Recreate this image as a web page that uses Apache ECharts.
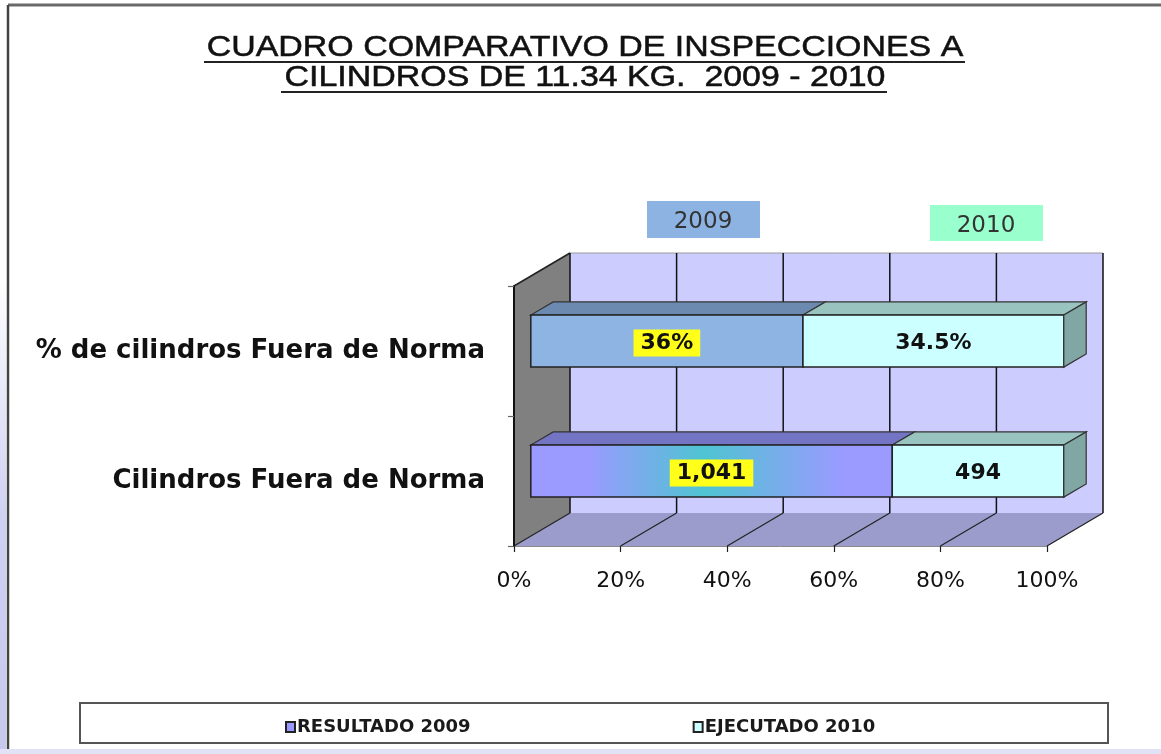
<!DOCTYPE html>
<html>
<head>
<meta charset="utf-8">
<script src="https://cdn.jsdelivr.net/npm/echarts/dist/echarts.min.js"></script>
<style>
  html, body { margin: 0; padding: 0; background: #fff; }
  #main { width: 1161px; height: 754px; }
</style>
</head>
<body>
<div id="main"></div>
<script>
// datos del cuadro
var categories = ['% de cilindros Fuera de Norma', 'Cilindros Fuera de Norma'];
var seriesNames = ['RESULTADO 2009', 'EJECUTADO 2010'];
var values2009 = [36, 1041];
var values2010 = [34.5, 494];
var labels2009 = ['36%', '1,041'];
var labels2010 = ['34.5%', '494'];
var xTicks = [0, 20, 40, 60, 80, 100];
var yearHeaders = ['2009', '2010'];

// profundidad del efecto 3D (px)
var DEPTH = [56, -33];

// 100% apilado
var data2009 = [], data2010 = [];
for (var i = 0; i < categories.length; i++) {
  var total = values2009[i] + values2010[i];
  var share = values2009[i] / total * 100;
  data2009.push([0, share, i, labels2009[i]]);
  data2010.push([share, 100, i, labels2010[i]]);
}

var faces2009 = [
  { front: '#8eb4e3', top: '#6c8ab0' },
  {
    front: {
      type: 'linear', x: 0, y: 0, x2: 1, y2: 0,
      colorStops: [
        { offset: 0, color: '#9a9aff' },
        { offset: 0.16, color: '#9a9aff' },
        { offset: 0.48, color: '#4ec4d2' },
        { offset: 0.86, color: '#9a9aff' },
        { offset: 1, color: '#9a9aff' }
      ]
    },
    top: '#7474c4'
  }
];
var faces2010 = [
  { front: '#ccffff', top: '#99c3bf', side: '#80a7a3' },
  { front: '#ccffff', top: '#99c3bf', side: '#80a7a3' }
];

function renderFrame(params, api) {
  var cs = params.coordSys;
  var L = cs.x, R = cs.x + cs.width, T = cs.y, B = cs.y + cs.height;
  var dx = DEPTH[0], dy = DEPTH[1];
  var kids = [
    { type: 'polygon', shape: { points: [[L + dx, T + dy], [R + dx, T + dy], [R + dx, B + dy], [L + dx, B + dy]] },
      style: { fill: '#ccccff' } },
    { type: 'polygon', shape: { points: [[L, T], [L + dx, T + dy], [L + dx, B + dy], [L, B]] },
      style: { fill: '#808080' } },
    { type: 'polygon', shape: { points: [[L, B], [R, B], [R + dx, B + dy], [L + dx, B + dy]] },
      style: { fill: '#9c9ccc' } },
    { type: 'line', shape: { x1: L + dx, y1: T + dy, x2: R + dx, y2: T + dy },
      style: { stroke: '#9a9a9a', lineWidth: 1 } },
    { type: 'line', shape: { x1: L, y1: T, x2: L + dx, y2: T + dy },
      style: { stroke: '#222', lineWidth: 1.6 } }
  ];
  xTicks.forEach(function (t) {
    var x = api.coord([t, 0])[0];
    kids.push({ type: 'line', shape: { x1: x + dx, y1: T + dy, x2: x + dx, y2: B + dy },
      style: { stroke: '#111', lineWidth: 1.5 } });
    kids.push({ type: 'line', shape: { x1: x, y1: B, x2: x + dx, y2: B + dy },
      style: { stroke: '#222', lineWidth: 1.2 } });
  });
  return { type: 'group', children: kids };
}

function makeBarRenderer(faces, highlight) {
  return function (params, api) {
    var cat = api.value(2);
    var p0 = api.coord([api.value(0), cat]);
    var p1 = api.coord([api.value(1), cat]);
    var h = api.size([0, 1])[1] * 0.4;
    var fx = DEPTH[0] * 0.3, fy = DEPTH[1] * 0.3;
    var bx = DEPTH[0] * 0.4, by = DEPTH[1] * 0.4;
    var x0 = p0[0] + fx, x1 = p1[0] + fx;
    var yT = p0[1] + fy - h / 2, yB = yT + h;
    var f = faces[params.dataIndex];
    var kids = [
      { type: 'polygon', shape: { points: [[x0, yT], [x1, yT], [x1 + bx, yT + by], [x0 + bx, yT + by]] },
        style: { fill: f.top, stroke: '#333', lineWidth: 1.2 } },
      { type: 'rect', shape: { x: x0, y: yT, width: x1 - x0, height: h },
        style: { fill: f.front, stroke: '#222', lineWidth: 1.5 } }
    ];
    if (f.side) {
      kids.push({ type: 'polygon', shape: { points: [[x1, yT], [x1 + bx, yT + by], [x1 + bx, yB + by], [x1, yB]] },
        style: { fill: f.side, stroke: '#333', lineWidth: 1.2 } });
    }
    var txt = {
      type: 'text',
      x: (x0 + x1) / 2, y: (yT + yB) / 2 + 2,
      style: {
        text: api.value(3),
        align: 'center', verticalAlign: 'middle',
        textAlign: 'center', textVerticalAlign: 'middle',
        font: 'bold 22px "DejaVu Sans"',
        fill: '#111'
      }
    };
    if (highlight) {
      txt.style.backgroundColor = '#ffff1a';
      txt.style.padding = [3, 7, 2, 7];
    }
    kids.push(txt);
    return { type: 'group', children: kids };
  };
}

var chart = echarts.init(document.getElementById('main'));

var option = {
  backgroundColor: '#fff',
  animation: false,
  grid: { left: 514, right: 114, top: 286, bottom: 208 },
  xAxis: {
    type: 'value',
    min: 0, max: 100, interval: 20,
    z: 5,
    axisLine: { show: true, lineStyle: { color: '#8a8a8a', width: 1 } },
    axisTick: { show: true, length: 6, lineStyle: { color: '#222', width: 1.2 } },
    splitLine: { show: false },
    axisLabel: {
      formatter: '{value}%',
      margin: 24,
      color: '#111',
      fontFamily: 'DejaVu Sans',
      fontSize: 22
    }
  },
  yAxis: {
    type: 'category',
    data: categories,
    inverse: true,
    z: 5,
    axisLine: { show: true, lineStyle: { color: '#111', width: 2 } },
    axisTick: { show: true, length: 6, lineStyle: { color: '#666', width: 1.2 } },
    axisLabel: {
      margin: 29,
      color: '#111',
      fontFamily: 'DejaVu Sans',
      fontWeight: 'bold',
      fontSize: 26
    }
  },
  legend: {
    data: seriesNames,
    left: 280,
    top: 713,
    itemGap: 222,
    itemWidth: 9,
    itemHeight: 10,
    icon: 'rect',
    selectedMode: false,
    textStyle: { fontFamily: 'DejaVu Sans', fontWeight: 'bold', fontSize: 18, color: '#1a1a1a', padding: [0, 0, 0, -3] }
  },
  graphic: [
    // marco exterior
    { type: 'line', shape: { x1: 8, y1: 5, x2: 1161, y2: 5 }, style: { stroke: '#6a6a6a', lineWidth: 3 }, z: -1 },
    { type: 'line', shape: { x1: 8, y1: 5, x2: 8, y2: 754 }, style: { stroke: '#444', lineWidth: 2.5 }, z: -1 },
    { type: 'rect', shape: { x: 0, y: 280, width: 6, height: 474 }, z: -1,
      style: { fill: { type: 'linear', x: 0, y: 0, x2: 0, y2: 1,
        colorStops: [{ offset: 0, color: 'rgba(205,205,240,0)' }, { offset: 0.5, color: '#d0d0f2' }, { offset: 1, color: '#c8c8ee' }] } } },
    { type: 'rect', shape: { x: 0, y: 749, width: 1161, height: 5 }, z: -1, style: { fill: '#e2e2f6' } },
    // titulo
    { type: 'text', x: 585, y: 48, scaleX: 1.17, z: 10,
      style: { text: 'CUADRO COMPARATIVO DE INSPECCIONES A', font: '29px "Liberation Sans"', fill: '#111',
        stroke: '#111', lineWidth: 0.5,
        align: 'center', verticalAlign: 'middle', textAlign: 'center', textVerticalAlign: 'middle' } },
    { type: 'text', x: 585, y: 78, scaleX: 1.17, z: 10,
      style: { text: 'CILINDROS DE 11.34 KG.  2009 - 2010', font: '29px "Liberation Sans"', fill: '#111',
        stroke: '#111', lineWidth: 0.5,
        align: 'center', verticalAlign: 'middle', textAlign: 'center', textVerticalAlign: 'middle' } },
    { type: 'line', shape: { x1: 204, y1: 62, x2: 965, y2: 62 }, style: { stroke: '#222', lineWidth: 2.2 }, z: 10 },
    { type: 'line', shape: { x1: 281, y1: 92, x2: 887, y2: 92 }, style: { stroke: '#222', lineWidth: 2.2 }, z: 10 },
    // encabezados de año
    { type: 'rect', shape: { x: 647, y: 201, width: 113, height: 37 }, style: { fill: '#8db3e2' }, z: 10 },
    { type: 'text', x: 703, y: 222, z: 11,
      style: { text: yearHeaders[0], font: '23px "DejaVu Sans"', fill: '#333',
        align: 'center', verticalAlign: 'middle', textAlign: 'center', textVerticalAlign: 'middle' } },
    { type: 'rect', shape: { x: 930, y: 205, width: 113, height: 36 }, style: { fill: '#99ffcc' }, z: 10 },
    { type: 'text', x: 986, y: 226, z: 11,
      style: { text: yearHeaders[1], font: '23px "DejaVu Sans"', fill: '#333',
        align: 'center', verticalAlign: 'middle', textAlign: 'center', textVerticalAlign: 'middle' } },
    // caja de la leyenda
    { type: 'rect', shape: { x: 80, y: 703, width: 1028, height: 40 }, z: -1,
      style: { fill: '#fff', stroke: '#555', lineWidth: 2 } }
  ],
  series: [
    {
      name: 'frame',
      type: 'custom',
      silent: true,
      z: 1,
      data: [[0, 0]],
      encode: { x: 0, y: 1 },
      renderItem: renderFrame
    },
    {
      name: seriesNames[0],
      type: 'custom',
      z: 3,
      itemStyle: { color: '#9999ff', borderColor: '#222', borderWidth: 1 },
      data: data2009,
      encode: { x: [0, 1], y: 2 },
      renderItem: makeBarRenderer(faces2009, true)
    },
    {
      name: seriesNames[1],
      type: 'custom',
      z: 3,
      itemStyle: { color: '#ccffff', borderColor: '#222', borderWidth: 1 },
      data: data2010,
      encode: { x: [0, 1], y: 2 },
      renderItem: makeBarRenderer(faces2010, false)
    }
  ]
};

chart.setOption(option);
</script>
</body>
</html>
